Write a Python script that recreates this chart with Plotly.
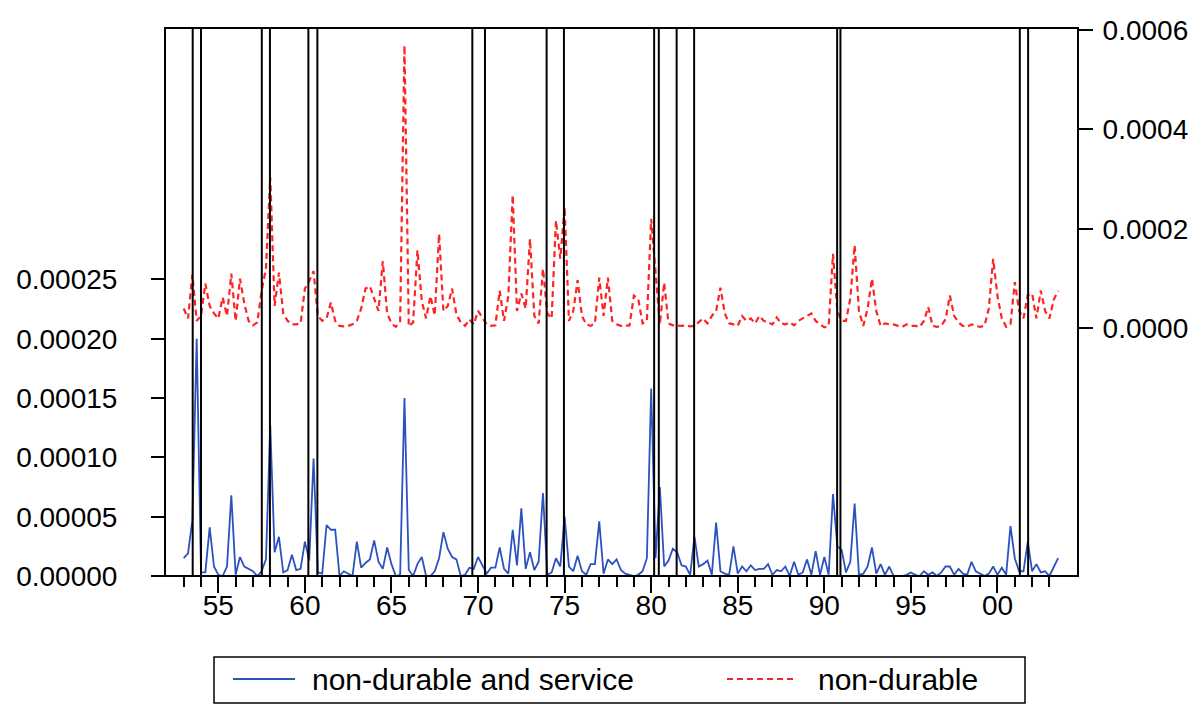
import plotly.graph_objects as go

# ---------------- data (quarterly, 1953Q1 .. 2003Q3) ----------------
START_YEAR = 1953
UNIT = 1e-5  # values below are in units of 1e-5

nondurable_service = [
    1.5, 1.9, 4.7, 20.0, 0.3, 0.3, 4.1, 0.8, 0.1, 0.0,
    0.8, 6.8, 0.1, 1.6, 0.8, 0.6, 0.4, 0.0, 0.4, 1.4,
    12.7, 2.0, 3.3, 0.3, 0.5, 1.8, 0.5, 0.6, 2.9, 1.3,
    9.9, 0.3, 0.2, 4.3, 3.9, 3.9, 0.0, 0.4, 0.2, 0.0,
    2.9, 0.7, 1.1, 1.4, 3.0, 1.2, 0.6, 2.4, 1.0, 0.0,
    0.1, 15.0, 0.5, 0.0, 1.0, 1.6, 0.0, 0.0, 0.4, 1.5,
    3.7, 2.3, 1.6, 1.4, 0.0, 0.1, 0.7, 0.6, 1.6, 0.9,
    0.2, 0.7, 0.7, 2.4, 0.6, 0.2, 3.9, 0.9, 5.7, 0.6,
    2.0, 0.5, 1.2, 7.0, 0.1, 0.3, 1.5, 0.8, 5.0, 0.8,
    0.4, 1.7, 0.4, 0.1, 1.0, 1.0, 4.6, 0.2, 1.4, 1.0,
    1.4, 0.5, 0.2, 0.1, 0.0, 0.1, 0.4, 1.5, 15.8, 1.5,
    7.5, 0.8, 1.3, 2.3, 2.0, 0.9, 0.8, 0.1, 3.3, 0.8,
    1.0, 1.3, 0.1, 4.5, 0.4, 0.2, 0.1, 2.5, 0.2, 0.8,
    0.4, 0.9, 0.5, 0.6, 0.6, 1.0, 0.1, 0.5, 0.4, 0.8,
    0.0, 1.2, 0.1, 0.3, 1.4, 0.1, 2.1, 0.1, 1.6, 0.1,
    6.9, 2.5, 2.2, 0.3, 1.2, 6.1, 0.1, 0.2, 0.8, 2.4,
    0.2, 1.0, 0.1, 0.8, 0.0, 0.0, 0.0, 0.1, 0.3, 0.1,
    0.0, 0.4, 0.1, 0.3, 0.0, 0.3, 0.8, 0.8, 0.1, 0.6,
    0.2, 0.1, 1.2, 0.4, 0.2, 0.0, 0.2, 0.8, 0.1, 0.7,
    0.1, 4.2, 1.5, 0.4, 0.4, 2.9, 0.4, 1.0, 0.3, 0.4,
    0.0, 0.8, 1.5,
]

nondurable = [
    4.0, 2.0, 10.8, 1.5, 2.5, 9.0, 4.5, 3.0, 2.0, 6.2,
    2.5, 11.0, 1.5, 10.0, 5.0, 1.5, 0.6, 1.2, 7.5, 12.0,
    30.4, 4.5, 11.2, 3.0, 1.5, 0.8, 0.8, 1.0, 8.0, 9.5,
    11.5, 2.5, 1.5, 2.0, 5.2, 1.5, 0.5, 0.4, 0.5, 0.8,
    1.5, 4.0, 8.0, 8.5, 6.0, 3.5, 13.5, 3.0, 1.0, 0.3,
    1.2, 56.9, 0.4, 1.2, 15.7, 5.5, 2.0, 6.5, 2.6, 19.0,
    3.5, 4.5, 8.0, 2.8, 1.2, 0.5, 1.8, 0.8, 3.5, 2.0,
    0.8, 0.5, 0.6, 7.6, 1.5, 6.5, 26.8, 3.5, 7.0, 4.0,
    18.0, 2.5, 1.0, 12.0, 3.0, 2.0, 21.7, 14.0, 24.4, 1.5,
    3.5, 9.7, 2.5, 0.8, 0.5, 1.0, 10.2, 2.5, 10.2, 1.5,
    0.8, 0.5, 0.5, 0.6, 6.6, 6.0, 1.0, 1.5, 22.0, 12.0,
    0.8, 9.2, 1.0, 0.6, 0.5, 0.5, 0.6, 0.4, 0.5, 1.2,
    2.0, 1.0, 2.5, 3.5, 8.2, 3.0, 1.0, 0.8, 0.5, 2.5,
    1.5, 2.0, 1.0, 2.5, 1.5, 1.2, 0.8, 2.2, 1.0, 0.8,
    1.2, 0.6, 1.5, 2.0, 2.5, 3.0, 1.5, 0.8, 0.2, 0.5,
    15.0, 3.5, 1.5, 1.5, 6.0, 16.7, 3.5, 0.5, 4.0, 10.0,
    3.5, 0.5, 1.0, 0.8, 0.8, 0.5, 0.3, 0.8, 0.5, 0.5,
    0.3, 1.5, 4.3, 0.5, 0.3, 0.5, 1.8, 6.6, 2.5, 1.2,
    0.5, 0.3, 0.8, 0.5, 0.3, 0.5, 4.0, 14.0, 6.5, 2.0,
    0.3, 0.8, 9.3, 3.5, 2.0, 6.7, 7.0, 2.0, 7.6, 3.5,
    2.0, 5.8, 7.5,
]

# vertical marker lines (decimal years)
marker_dates = [1953.52, 1954.00, 1957.51, 1957.98, 1960.20, 1960.72,
                1969.67, 1970.40, 1973.96, 1974.96, 1980.17, 1980.44,
                1981.47, 1982.48, 1990.74, 1990.93, 2001.29, 2001.77]

major_years = [1955, 1960, 1965, 1970, 1975, 1980, 1985, 1990, 1995, 2000]
major_labels = ["55", "60", "65", "70", "75", "80", "85", "90", "95", "00"]
minor_years = list(range(1953, 2004))

left_ticks = [0.0, 0.00005, 0.00010, 0.00015, 0.00020, 0.00025]
right_ticks = [0.0, 0.0002, 0.0004, 0.0006]

series_names = ["non-durable and service", "non-durable"]
series_colors = ["#2c52c0", "#ff2424"]

# ---------------- figure ----------------
W, H = 1201, 704
ML, MR, MT, MB = 165, 123, 28, 128
PW, PH = W - ML - MR, H - MT - MB
FONT = "Liberation Sans, Arial, sans-serif"


def px(xp):
    return (xp - ML) / PW


def py(yp):
    return (H - MB - yp) / PH


x = [START_YEAR + i / 4 for i in range(len(nondurable_service))]

blue_line = dict(color=series_colors[0], width=1.8)
red_line = dict(color=series_colors[1], width=2.2, dash="6px,4px")

fig = go.Figure()
fig.add_trace(go.Scatter(
    x=x, y=[v * UNIT for v in nondurable_service], mode="lines",
    name=series_names[0], line=blue_line, yaxis="y"))
fig.add_trace(go.Scatter(
    x=x[:len(nondurable)], y=[v * UNIT for v in nondurable], mode="lines",
    name=series_names[1], line=red_line, yaxis="y2"))

shapes = []
for d in marker_dates:
    shapes.append(dict(type="line", xref="x", yref="paper", x0=d, x1=d,
                       y0=0, y1=1, line=dict(color="black", width=2)))
shapes.append(dict(type="rect", xref="paper", yref="paper", x0=0, x1=1,
                   y0=0, y1=1, line=dict(color="black", width=2)))

# legend box drawn below the plot
shapes.append(dict(type="rect", xref="paper", yref="paper",
                   x0=px(214), x1=px(1025), y0=py(703), y1=py(657),
                   line=dict(color="black", width=1.5), fillcolor="white"))
shapes.append(dict(type="line", xref="paper", yref="paper",
                   x0=px(233), x1=px(295), y0=py(679), y1=py(679),
                   line=blue_line))
shapes.append(dict(type="line", xref="paper", yref="paper",
                   x0=px(727), x1=px(795), y0=py(679), y1=py(679),
                   line=red_line))
annotations = [
    dict(xref="paper", yref="paper", x=px(310), y=py(679), text=series_names[0],
         showarrow=False, xanchor="left", yanchor="middle",
         font=dict(size=30, family=FONT, color="black")),
    dict(xref="paper", yref="paper", x=px(816), y=py(679), text=series_names[1],
         showarrow=False, xanchor="left", yanchor="middle",
         font=dict(size=30, family=FONT, color="black")),
]

fig.update_layout(
    width=W, height=H,
    margin=dict(l=ML, r=MR, t=MT, b=MB),
    paper_bgcolor="white", plot_bgcolor="white",
    font=dict(family=FONT, color="black", size=28),
    showlegend=False,
    shapes=shapes,
    annotations=annotations,
    xaxis=dict(range=[1951.92, 2004.65], showgrid=False, zeroline=False,
               showline=False, tickmode="array", tickvals=major_years,
               ticktext=major_labels, ticks="outside", ticklen=16,
               tickwidth=1.5, tickcolor="black", ticklabelstandoff=-12,
               tickfont=dict(size=28, family=FONT),
               minor=dict(tickmode="array", tickvals=minor_years,
                          ticks="outside", ticklen=10, tickwidth=1.5,
                          tickcolor="black", showgrid=False)),
    yaxis=dict(range=[0, 0.000462], showgrid=False, zeroline=False,
               showline=False, tickmode="array", tickvals=left_ticks,
               tickformat=".5f", ticks="outside", ticklen=13,
               tickwidth=1.5, tickcolor="black", ticklabelstandoff=28,
               tickfont=dict(size=28, family=FONT)),
    yaxis2=dict(range=[-0.000498, 0.000604], overlaying="y", side="right",
                showgrid=False, zeroline=False, showline=False,
                tickmode="array", tickvals=right_ticks, tickformat=".4f",
                ticks="outside", ticklen=14, tickwidth=1.5,
                tickcolor="black", ticklabelstandoff=4,
                tickfont=dict(size=28, family=FONT)),
)

fig.write_html("out.html")
